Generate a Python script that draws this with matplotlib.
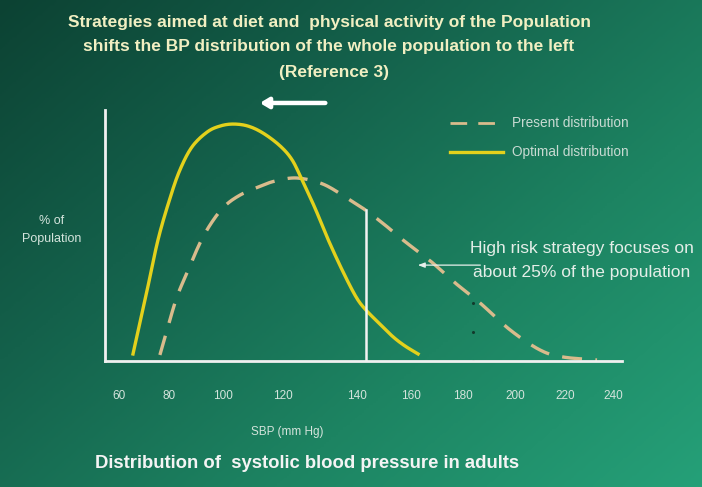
import numpy as np
import matplotlib
matplotlib.use("Agg")
import matplotlib.pyplot as plt
from matplotlib.colors import LinearSegmentedColormap

plt.rcParams['font.family'] = ['Liberation Sans', 'DejaVu Sans']

# Systolic blood pressure (mm Hg) and share of population (relative %)
present_sbp = [74.9, 77.5, 81.1, 84.8, 89.5, 93.9, 98.6, 104.1, 110.7, 116.9,
               124.9, 134.3, 143.1, 150.0, 156.9, 163.5, 169.7, 174.4, 182.5,
               191.6, 202.5, 213.4, 221.8, 234.2]
present_pct = [0.24, 1.24, 2.55, 3.51, 4.70, 5.54, 6.18, 6.61, 6.93, 7.17,
               7.29, 7.05, 6.49, 6.00, 5.42, 4.82, 4.30, 3.90, 3.11,
               2.31, 1.24, 0.44, 0.16, 0.04]

optimal_sbp = [65.1, 69.8, 74.2, 78.6, 82.2, 86.6, 92.1, 96.8, 101.6, 107.0,
               112.5, 118.7, 123.1, 126.7, 131.4, 135.8, 141.3, 146.4, 150.0,
               155.1, 159.9, 164.2, 169.0]
optimal_pct = [0.28, 2.59, 4.82, 6.49, 7.61, 8.53, 9.12, 9.36, 9.44, 9.36,
               9.08, 8.57, 8.01, 7.21, 6.10, 4.94, 3.63, 2.55, 2.03,
               1.47, 0.96, 0.60, 0.28]

tick_positions = [60, 78.2, 97.9, 119.8, 146.7, 166.4, 185.4, 204.3, 222.5, 240]
tick_labels = ["60", "80", "100", "120", "140", "160", "180", "200", "220", "240"]

cutoff_sbp = 150.0
cutoff_pct = 6.00


def smooth_path(xs, ys, steps=16):
    """Catmull-Rom curve through the given points, for a smooth stroke."""
    p = np.column_stack([xs, ys]).astype(float)
    p = np.vstack([2 * p[0] - p[1], p, 2 * p[-1] - p[-2]])
    out = []
    s = np.linspace(0, 1, steps, endpoint=False)[:, None]
    for i in range(1, len(p) - 2):
        p0, p1, p2, p3 = p[i - 1], p[i], p[i + 1], p[i + 2]
        seg = 0.5 * ((2 * p1) + (-p0 + p2) * s
                     + (2 * p0 - 5 * p1 + 4 * p2 - p3) * s ** 2
                     + (-p0 + 3 * p1 - 3 * p2 + p3) * s ** 3)
        out.append(seg)
    out.append(p[-2][None, :])
    out = np.vstack(out)
    return out[:, 0], out[:, 1]


W, H = 702, 487
fig = plt.figure(figsize=(W / 100, H / 100), dpi=100)

# diagonal green gradient background
bg = fig.add_axes([0, 0, 1, 1])
bg.set_axis_off()
yy, xx = np.mgrid[0:1:200j, 0:1:300j]
t = 0.55 * xx + 0.45 * yy
cmap = LinearSegmentedColormap.from_list(
    "slide", ["#0c4233", "#14614b", "#1d8462", "#25a078"])
bg.imshow(t, cmap=cmap, aspect="auto", extent=[0, 1, 0, 1], origin="upper",
          interpolation="bilinear")

ax = fig.add_axes([105 / W, 1 - 361 / H, 517 / W, 251 / H])
ax.patch.set_alpha(0)
ax.set_xlim(54.9, 243.3)
ax.set_ylim(0, 10)

px, py = smooth_path(present_sbp, present_pct)
ox, oy = smooth_path(optimal_sbp, optimal_pct)
ax.plot(px, py, color="#d9bb8c", lw=2.4, dashes=(6, 4), solid_capstyle="butt")
ax.plot(ox, oy, color="#e3d11c", lw=2.4)
ax.plot([cutoff_sbp, cutoff_sbp], [0, cutoff_pct], color="#f2f2f2", lw=1.8)

# faint marks along 185 mm Hg
ax.plot([189.0, 189.0, 189.0], [2.31, 1.16, 0.0], ls="none", marker="o",
        ms=1.2, color="#123a2c")

for s in ["top", "right"]:
    ax.spines[s].set_visible(False)
for s in ["left", "bottom"]:
    ax.spines[s].set_color("#f0f0f0")
    ax.spines[s].set_linewidth(2)
ax.set_yticks([])
ax.set_xticks(tick_positions)
ax.set_xticklabels(tick_labels, fontsize=8.5, color="#d4e4dc")
ax.tick_params(axis="x", length=0, pad=21)

# shift arrow above the curves
ax.annotate("", xy=(110.3, 10.28), xytext=(136.2, 10.28),
            arrowprops=dict(arrowstyle="-|>,head_length=0.5,head_width=0.3",
                            color="white", lw=3.2), annotation_clip=False)
# high-risk pointer
ax.annotate("", xy=(167.9, 3.82), xytext=(192.7, 3.82),
            arrowprops=dict(arrowstyle="-|>,head_length=0.4,head_width=0.15",
                            color="#e8f0ec", lw=0.9), annotation_clip=False)


def ftext(x, y, s, **kw):
    fig.text(x / W, 1 - y / H, s, **kw)


title_col = "#f1efc2"
ftext(329, 22, "Strategies aimed at diet and  physical activity of the Population",
      ha="center", va="center", fontsize=12.5, fontweight="bold", color=title_col)
ftext(329, 47, "shifts the BP distribution of the whole population to the left",
      ha="center", va="center", fontsize=12.5, fontweight="bold", color=title_col)
ftext(334, 73, "(Reference 3)", ha="center", va="center", fontsize=12.5,
      fontweight="bold", color=title_col)

ftext(52, 230, "% of\nPopulation", ha="center", va="center", fontsize=9,
      color="#d4e4dc", linespacing=1.7)
ftext(287, 432, "SBP (mm Hg)", ha="center", va="center", fontsize=8.5,
      color="#d4e4dc")
ftext(582, 248, "High risk strategy focuses on", ha="center", va="center",
      fontsize=12.5, color="#e4eee8")
ftext(582, 272, "about 25% of the population", ha="center", va="center",
      fontsize=12.5, color="#e4eee8")
ftext(95, 464, "Distribution of  systolic blood pressure in adults",
      ha="left", va="center", fontsize=13.3, fontweight="bold", color="#f4f4f4")

# legend
fig.add_artist(plt.Line2D([450 / W, 503 / W], [1 - 123 / H] * 2,
                          color="#d9bb8c", lw=2, dashes=(6, 4)))
fig.add_artist(plt.Line2D([450 / W, 503 / W], [1 - 152 / H] * 2,
                          color="#e3d11c", lw=2.4))
ftext(512, 123, "Present distribution", ha="left", va="center", fontsize=9.8,
      color="#c8dad2")
ftext(512, 152, "Optimal distribution", ha="left", va="center", fontsize=9.8,
      color="#c8dad2")

fig.savefig("out.png", dpi=100)
